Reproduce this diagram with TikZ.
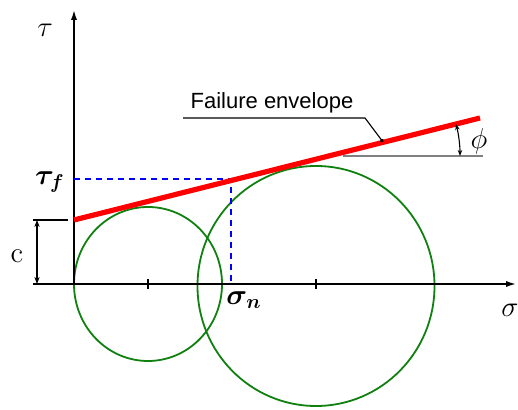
\documentclass[tikz,border=0pt]{standalone}
\usepackage{fontspec}
\newfontfamily\sansfont{Liberation Sans}
\usetikzlibrary{arrows.meta}
\definecolor{envred}{HTML}{FF0000}
\definecolor{mohrgreen}{HTML}{108010}
\definecolor{dashblue}{HTML}{0000FF}
\tikzset{axis/.style={line width=1.2pt,-{Latex[length=6pt,width=3pt]}},
  mohr/.style={draw=mohrgreen,line width=0.9pt},
  envelope/.style={draw=envred,line width=2.6pt},
  proj/.style={draw=dashblue,line width=0.9pt,dash pattern=on 3pt off 2.5pt},
  dim/.style={line width=0.55pt},
  lbl/.style={inner sep=0pt,font=\Large}}
\begin{document}
\begin{tikzpicture}[x=0.5pt,y=0.5pt]
\useasboundingbox (-74,-126) rectangle (444,284);
\coordinate (O) at (0,0);
\coordinate (c) at (0,64);
\coordinate (tf) at (0,105);
\coordinate (sn) at (157,0);
\coordinate (T) at (157,105);
% Mohr circles
\draw[mohr] (74,0) ellipse[x radius=74,y radius=77];
\draw[mohr] (242,-2) ellipse[x radius=118.5,y radius=120];
% axes
\draw[axis] (O)--(0,276) coordinate (yend);
\draw[axis] (O)--(444,0) coordinate (xend);
\foreach \xc in {74,242} \draw[line width=1.2pt] (\xc,-5)--(\xc,5);
% projection of the failure point
\draw[proj] (tf)--(T)--(sn);
% envelope and friction angle
\draw[draw=gray,line width=0.6pt] (269,128)--(409,128);
\draw[envelope] (c)--(406,166) coordinate (eend);
\draw[dim,{Stealth[length=3pt]}-{Stealth[length=3pt]}] (255+131,128) arc[start angle=0,end angle=14.1,radius=131];
% cohesion
\draw[dim] (-41,64)--(-6,64);
\draw[dim] (-41,0)--(O);
\draw[dim,{Stealth[length=3.5pt]}-{Stealth[length=3.5pt]}] (-37,0)--(-37,64);
% leader
\coordinate (lead) at (309,142);
\draw[dim,-{Circle[length=1.8pt]}] (109,166)--(291,166)--(lead);
% labels
\node[lbl] (taulbl) at (-29,254) {$\tau$};
\node[lbl,font=\Large\boldmath] (tflbl) at (-24,102) {$\tau_f$};
\node[lbl] (clbl) at (-57,28) {c};
\node[lbl,font=\Large\boldmath] (snlbl) at (170,-16) {$\sigma_n$};
\node[lbl] (siglbl) at (436,-26) {$\sigma$};
\node[lbl] (philbl) at (405,143) {$\phi$};
\node[inner sep=0pt,font=\sansfont\fontsize{11}{13}\selectfont] (envlbl) at (198,181) {Failure envelope};
\end{tikzpicture}
\end{document}
